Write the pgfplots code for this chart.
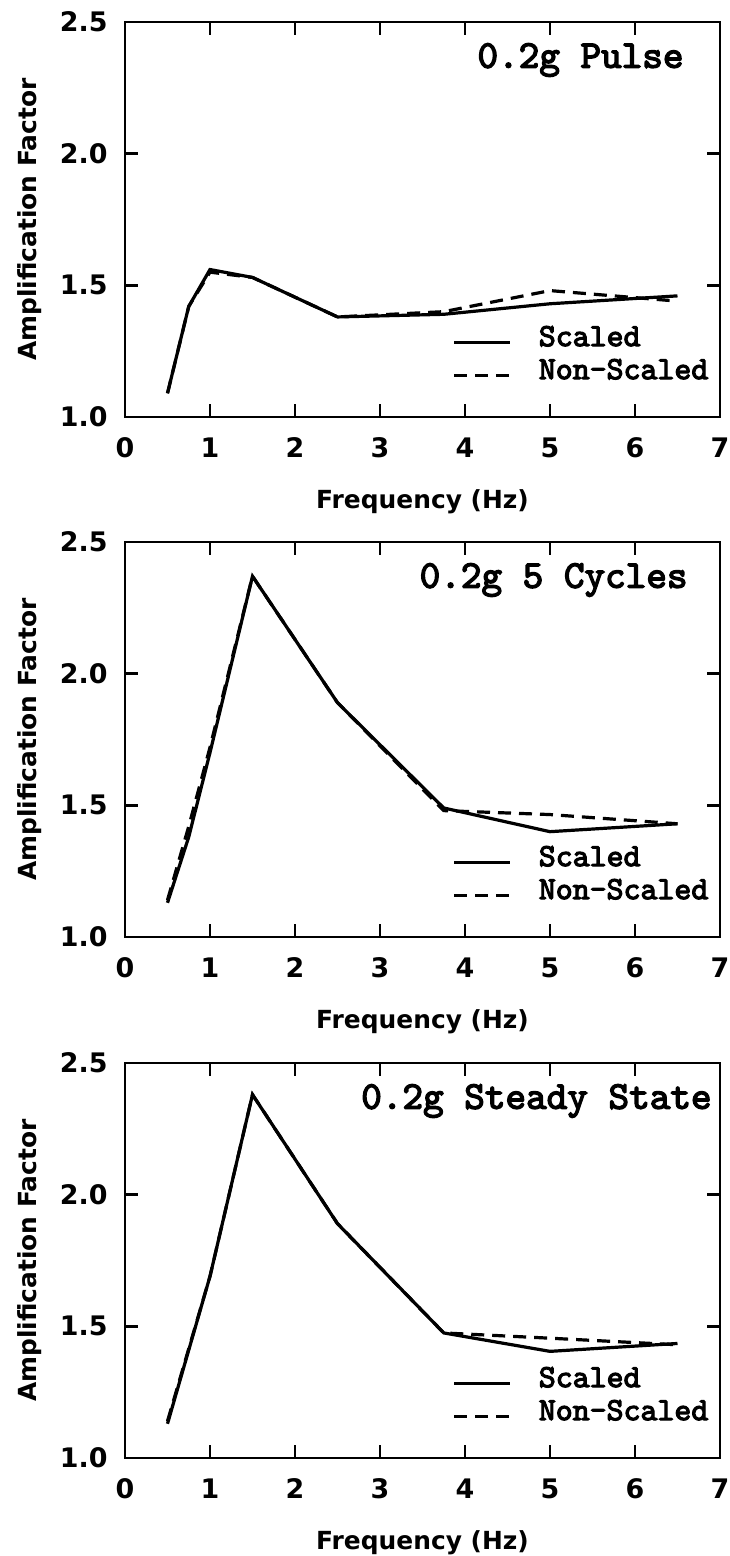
\documentclass[border=0pt]{standalone}
\usepackage{fontspec}
\setmainfont{DejaVu Sans}
\newfontfamily\monofont[FakeBold=3.5]{lmmono10-regular.otf}
\usepackage{pgfplots}
\pgfplotsset{compat=1.18}

\tikzset{
  ttl/.style={font=\monofont\bfseries\fontsize{19.7}{22}\selectfont, inner sep=0pt, anchor=east},
  solidline/.style={black, line width=1.6bp},
  dashline/.style={black, line width=1.6bp, dash pattern=on 6.5bp off 4bp},
}

\pgfplotsset{
  panel/.style={
    scale only axis,
    width=297.5bp, height=197.5bp,
    anchor=north west,
    xmin=0, xmax=7, ymin=1, ymax=2.5,
    xtick={0,1,...,7}, ytick={1,1.5,2,2.5},
    tick align=inside,
    major tick length=6.5bp,
    every tick/.style={black, line width=1.2bp},
    axis line style={line width=1.4bp},
    /pgf/number format/assume math mode=true,
    tick label style={font=\fontsize{13.5}{15}\selectfont\bfseries, inner sep=0pt},
    xticklabel style={yshift=-10bp},
    yticklabel style={xshift=-8.5bp, /pgf/number format/.cd, fixed, fixed zerofill, precision=1},
    xlabel={Frequency (Hz)},
    ylabel={Amplification Factor},
    label style={font=\fontsize{12.5}{15}\selectfont\bfseries, inner sep=0pt},
    xlabel style={at={(axis description cs:0.5,-0.2152)}, anchor=center},
    ylabel style={at={(axis description cs:-0.1597,0.5)}, anchor=center},
    legend image code/.code={\draw[#1] (0bp,0bp) -- (28bp,0bp);},
    legend cell align=left,
    legend style={
      draw=none, fill=none, inner sep=0pt,
      at={(rel axis cs:0.55,0.062)}, anchor=south west,
      font=\monofont\bfseries\fontsize{16.2}{18}\selectfont,
      nodes={inner sep=0pt, text height=10bp, text depth=6.5bp},
      /tikz/every odd column/.append style={column sep=13.5bp},
    },
  },
}

\begin{document}
\begin{tikzpicture}
\path[use as bounding box] (-62.5bp,11bp) rectangle (302.5bp,-767bp);

% 0.2g Pulse
\begin{axis}[panel, at={(0bp,0bp)}]
\addplot[solidline] coordinates {
  (0.5,1.09) (0.75,1.42) (1,1.56) (1.5,1.53) (2.5,1.38) (3.75,1.39) (5,1.43) (6.5,1.46)
};
\addlegendentry{Scaled}
\addplot[dashline] coordinates {
  (0.5,1.09) (0.75,1.42) (1,1.55) (1.5,1.53) (2.5,1.38) (3.75,1.40) (5,1.48) (6.5,1.44)
};
\addlegendentry{Non-Scaled}
\node[ttl, xshift=-18bp, yshift=-19bp] at (rel axis cs:1,1) {0.2g Pulse};
\end{axis}

% 0.2g 5 Cycles
\begin{axis}[panel, at={(0bp,-260bp)}]
\addplot[solidline] coordinates {
  (0.5,1.13) (0.75,1.38) (1,1.70) (1.5,2.37) (2.5,1.89) (3.75,1.49) (5,1.40) (6.5,1.43)
};
\addlegendentry{Scaled}
\addplot[dashline] coordinates {
  (0.5,1.14) (0.75,1.42) (1,1.72) (1.5,2.37) (2.5,1.89) (3.75,1.48) (5,1.465) (6.5,1.43)
};
\addlegendentry{Non-Scaled}
\node[ttl, xshift=-16bp, yshift=-19bp] at (rel axis cs:1,1) {0.2g 5 Cycles};
\end{axis}

% 0.2g Steady State
\begin{axis}[panel, at={(0bp,-520.5bp)}]
\addplot[solidline] coordinates {
  (0.5,1.13) (1,1.69) (1.5,2.38) (2.5,1.89) (3.75,1.475) (5,1.405) (6.5,1.435)
};
\addlegendentry{Scaled}
\addplot[dashline] coordinates {
  (0.5,1.14) (1,1.69) (1.5,2.38) (2.5,1.89) (3.75,1.475) (5,1.455) (6.5,1.43)
};
\addlegendentry{Non-Scaled}
\node[ttl, xshift=-4bp, yshift=-19bp] at (rel axis cs:1,1) {0.2g Steady State};
\end{axis}
\end{tikzpicture}
\end{document}
